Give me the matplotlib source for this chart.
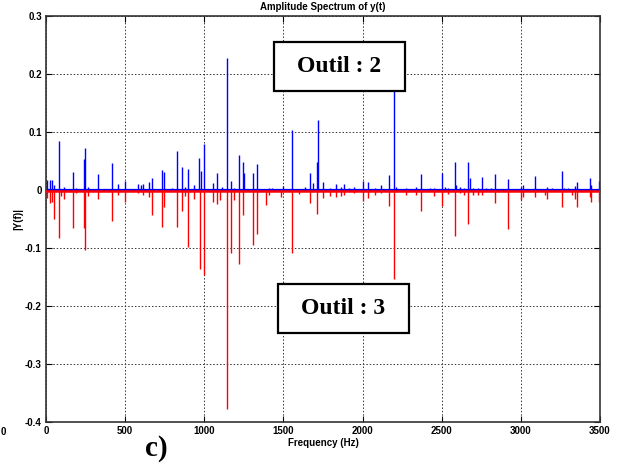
import matplotlib
matplotlib.use("Agg")
import matplotlib.pyplot as plt
from matplotlib.patches import Rectangle
from matplotlib.font_manager import FontProperties

# Spectrum of the signal for tool 2 (positive) and tool 3 (mirrored, negative)
freq_outil2 = [8, 25, 36, 51, 80, 114, 169, 190, 242, 248, 265, 329, 415, 455, 499,
               581, 598, 613, 651, 668, 731, 746, 796, 830, 857, 878, 899, 937, 969,
               977, 998, 1057, 1082, 1112, 1142, 1169, 1190, 1221, 1247, 1253, 1310,
               1331, 1411, 1428, 1497, 1552, 1636, 1670, 1687, 1714, 1720, 1748, 1794,
               1832, 1862, 1885, 1916, 1948, 2001, 2036, 2079, 2117, 2167, 2199, 2211,
               2274, 2336, 2369, 2426, 2453, 2504, 2521, 2542, 2581, 2590, 2614, 2641,
               2669, 2677, 2698, 2729, 2755, 2782, 2813, 2835, 2919, 3003, 3014, 3088,
               3091, 3167, 3199, 3262, 3273, 3298, 3340, 3353, 3435, 3445, 3494]
amp_outil2 = [0.017, 0.018, 0.017, 0.008, 0.084, 0.005, 0.031, 0.004, 0.053, 0.072,
              0.006, 0.028, 0.047, 0.010, 0.016, 0.010, 0.009, 0.011, 0.014, 0.021,
              0.034, 0.031, 0.004, 0.067, 0.040, 0.005, 0.037, 0.008, 0.055, 0.033,
              0.079, 0.012, 0.030, 0.005, 0.228, 0.016, 0.004, 0.061, 0.048, 0.030,
              0.030, 0.045, 0.004, 0.004, 0.007, 0.104, 0.005, 0.030, 0.012, 0.048,
              0.120, 0.013, 0.004, 0.011, 0.006, 0.011, 0.004, 0.005, 0.015, 0.014,
              0.004, 0.008, 0.025, 0.185, 0.005, 0.004, 0.006, 0.028, 0.004, 0.003,
              0.030, 0.005, 0.004, 0.048, 0.008, 0.005, 0.004, 0.048, 0.020, 0.003,
              0.003, 0.023, 0.004, 0.003, 0.027, 0.019, 0.005, 0.008, 0.004, 0.024,
              0.006, 0.004, 0.033, 0.004, 0.004, 0.007, 0.013, 0.020, 0.009, 0.015]

freq_outil3 = [8, 25, 36, 51, 80, 92, 112, 169, 190, 242, 248, 265, 329, 415, 455, 499,
               581, 613, 651, 668, 731, 746, 830, 857, 878, 899, 937, 971, 998, 1057,
               1082, 1100, 1142, 1169, 1190, 1221, 1247, 1310, 1331, 1392, 1411, 1487,
               1552, 1600, 1670, 1714, 1748, 1794, 1832, 1862, 1885, 1948, 2001, 2036,
               2079, 2117, 2167, 2199, 2274, 2336, 2369, 2453, 2504, 2542, 2581, 2614,
               2641, 2669, 2698, 2729, 2755, 2835, 2919, 3003, 3014, 3091, 3150, 3167,
               3262, 3320, 3340, 3353, 3435, 3445, 3494]
amp_outil3 = [-0.014, -0.022, -0.020, -0.050, -0.083, -0.010, -0.015, -0.066, -0.006,
              -0.065, -0.103, -0.010, -0.015, -0.053, -0.008, -0.020, -0.006, -0.008,
              -0.012, -0.043, -0.063, -0.029, -0.064, -0.036, -0.010, -0.099, -0.015,
              -0.136, -0.147, -0.020, -0.025, -0.018, -0.378, -0.108, -0.018, -0.128,
              -0.043, -0.095, -0.076, -0.026, -0.008, -0.012, -0.109, -0.007, -0.022,
              -0.041, -0.013, -0.010, -0.012, -0.010, -0.008, -0.006, -0.019, -0.013,
              -0.008, -0.005, -0.028, -0.154, -0.008, -0.009, -0.036, -0.010, -0.028,
              -0.007, -0.080, -0.006, -0.009, -0.059, -0.008, -0.008, -0.009, -0.023,
              -0.068, -0.017, -0.012, -0.012, -0.008, -0.015, -0.029, -0.008, -0.015,
              -0.030, -0.012, -0.020, -0.020]

x_ticks = [0, 500, 1000, 1500, 2000, 2500, 3000, 3500]
y_ticks = [-0.4, -0.3, -0.2, -0.1, 0, 0.1, 0.2, 0.3]
y_tick_labels = ["-0.4", "-0.3", "-0.2", "-0.1", "0", "0.1", "0.2", "0.3"]

W, H = 631, 466
fig = plt.figure(figsize=(W / 100, H / 100), dpi=100)
fig.patch.set_facecolor("white")


def fx(px):
    return px / W


def fy(py):
    return 1 - py / H


ax = fig.add_axes([fx(46), fy(422), fx(600) - fx(46), fy(16) - fy(422)])

ax.axhline(0, color="#0000ff", lw=1.6, zorder=2)
ax.vlines(freq_outil2, 0, amp_outil2, color="#0000ff", lw=1.0, zorder=2)
ax.vlines(freq_outil3, 0, amp_outil3, color="#ff0000", lw=1.0, zorder=3)
ax.axhline(-0.0015, color="#ff0000", lw=1.8, zorder=3)

ax.set_xlim(0, 3500)
ax.set_ylim(-0.4, 0.3)
ax.set_xticks(x_ticks)
ax.set_yticks(y_ticks)
ax.set_yticklabels(y_tick_labels)

tick_font = dict(family="Liberation Sans", weight="bold", size=7)
for lab in ax.get_xticklabels() + ax.get_yticklabels():
    lab.set_fontproperties(FontProperties(**tick_font))

ax.tick_params(direction="in", length=4, width=0.8, top=True, right=True,
               pad=3, colors="black")
for s in ax.spines.values():
    s.set_color("#333333")
    s.set_linewidth(1.2)

ax.grid(True, linestyle=(0, (1.5, 2)), color="#333333", linewidth=0.7)
ax.set_axisbelow(True)

ax.set_title("Amplitude Spectrum of y(t)", fontdict=tick_font, pad=4)
ax.set_xlabel("Frequency (Hz)", fontdict=tick_font, labelpad=1)
ax.set_ylabel("|Y(f)|", fontdict=tick_font, labelpad=1)

# Annotation boxes
box_kw = dict(fill=True, facecolor="white", edgecolor="black", linewidth=1.6,
              transform=fig.transFigure, zorder=5)
fig.patches.append(Rectangle((fx(274), fy(91)), fx(405) - fx(274), fy(42) - fy(91), **box_kw))
fig.patches.append(Rectangle((fx(278), fy(333)), fx(409) - fx(278), fy(284) - fy(333), **box_kw))

serif = dict(family="Liberation Serif", weight="bold")
fig.text(fx(339.5), fy(67), "Outil : 2", ha="center", va="center", size=17, zorder=6, **serif)
fig.text(fx(343.5), fy(309), "Outil : 3", ha="center", va="center", size=17, zorder=6, **serif)
fig.text(fx(156), fy(448), "c)", ha="center", va="center", size=21, **serif)
fig.text(fx(1), fy(432), "0", ha="left", va="center", **tick_font)

fig.savefig("out.png", dpi=100, facecolor="white")
